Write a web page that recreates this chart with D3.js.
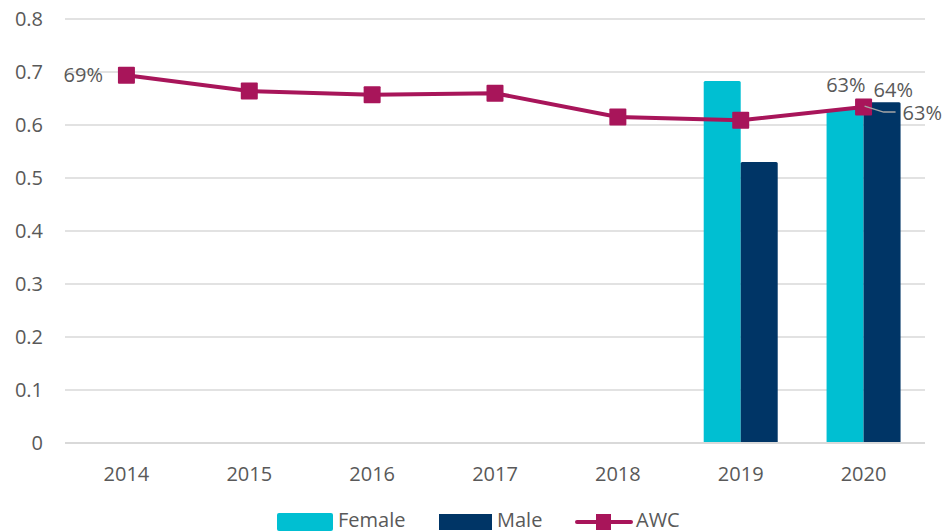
<!DOCTYPE html>
<html><head><meta charset="utf-8">
<script src="https://cdn.jsdelivr.net/npm/d3@7"></script>
<style>body{margin:0;background:#fff}svg{display:block}text{font-family:"Open Sans",sans-serif;fill:#595959}</style>
</head><body><svg id="c" width="945" height="532"></svg>
<script>
const years = ["2014","2015","2016","2017","2018","2019","2020"];
const female = [null,null,null,null,null,0.683,0.63];
const male = [null,null,null,null,null,0.53,0.643];
const awc = [0.694,0.664,0.657,0.660,0.615,0.609,0.634];
const yTicks = [0,0.1,0.2,0.3,0.4,0.5,0.6,0.7,0.8];
const seriesNames = ["Female","Male","AWC"];
const colors = {Female:"#00BFD2",Male:"#003566",AWC:"#A8155A"};

const svg = d3.select("#c");
const x = d3.scaleBand().domain(years).range([65,925]);
const y = d3.scaleLinear().domain([0,0.8]).range([443,19]);
const FS = 20;

svg.append("g").selectAll("line").data(yTicks.filter(d=>d>0)).join("line")
  .attr("x1",65).attr("x2",925).attr("y1",d=>y(d)).attr("y2",d=>y(d))
  .attr("stroke","#d9d9d9").attr("stroke-width",1.3);

svg.append("g").selectAll("text").data(yTicks).join("text")
  .attr("x",43).attr("y",d=>y(d)+7).attr("text-anchor","end")
  .attr("font-size",FS).text(d=>d===0?"0":d.toFixed(1));

const bw = 37;
years.forEach((yr,i)=>{
  const cx = x(yr)+x.bandwidth()/2;
  if(female[i]!=null) svg.append("rect").attr("x",cx-bw).attr("y",y(female[i])).attr("width",bw).attr("height",y(0)-y(female[i])).attr("fill",colors.Female).attr("rx",1.5);
  if(male[i]!=null) svg.append("rect").attr("x",cx).attr("y",y(male[i])).attr("width",bw).attr("height",y(0)-y(male[i])).attr("fill",colors.Male).attr("rx",1.5);
});

svg.append("line").attr("x1",65).attr("x2",925).attr("y1",y(0)).attr("y2",y(0)).attr("stroke","#d9d9d9").attr("stroke-width",2);

svg.append("g").selectAll("text").data(years).join("text")
  .attr("x",d=>x(d)+x.bandwidth()/2).attr("y",481).attr("text-anchor","middle")
  .attr("font-size",FS).text(d=>d);

const line = d3.line().x((d,i)=>x(years[i])+x.bandwidth()/2).y(d=>y(d));
svg.append("path").datum(awc).attr("d",line).attr("fill","none").attr("stroke",colors.AWC).attr("stroke-width",4);
const ms = 17;
svg.append("g").selectAll("rect").data(awc).join("rect")
  .attr("x",(d,i)=>x(years[i])+x.bandwidth()/2-ms/2).attr("y",d=>y(d)-ms/2)
  .attr("width",ms).attr("height",ms).attr("fill",colors.AWC).attr("rx",1);

const pct = d=>Math.round(d*100)+"%";
svg.append("text").attr("x",103).attr("y",82).attr("text-anchor","end").attr("font-size",FS).text(pct(awc[0]));
const c20 = x("2020")+x.bandwidth()/2;
svg.append("text").attr("x",c20+2).attr("y",92).attr("text-anchor","end").attr("font-size",FS).text(pct(awc[6]));
svg.append("text").attr("x",c20+10).attr("y",97).attr("font-size",FS).text(pct(male[6]));
svg.append("path").attr("d",`M${c20+1},${y(female[6])-3} L${c20+20},${y(female[6])+3} L${c20+32},${y(female[6])+3}`)
  .attr("fill","none").attr("stroke","#a6a6a6").attr("stroke-width",1.5);
svg.append("text").attr("x",c20+39).attr("y",120).attr("font-size",FS).text(pct(female[6]));

const lg = svg.append("g");
lg.append("rect").attr("x",277).attr("y",513).attr("width",56).attr("height",18).attr("fill",colors.Female).attr("rx",2);
lg.append("text").attr("x",338).attr("y",527).attr("font-size",FS).text(seriesNames[0]);
lg.append("rect").attr("x",439).attr("y",514).attr("width",53).attr("height",16).attr("fill",colors.Male);
lg.append("text").attr("x",497).attr("y",527).attr("font-size",FS).text(seriesNames[1]);
lg.append("line").attr("x1",577).attr("x2",631).attr("y1",522).attr("y2",522).attr("stroke",colors.AWC).attr("stroke-width",4).attr("stroke-linecap","round");
lg.append("rect").attr("x",596).attr("y",514).attr("width",15).attr("height",16).attr("fill",colors.AWC);
lg.append("text").attr("x",636).attr("y",527).attr("font-size",FS).text(seriesNames[2]);
</script></body></html>
